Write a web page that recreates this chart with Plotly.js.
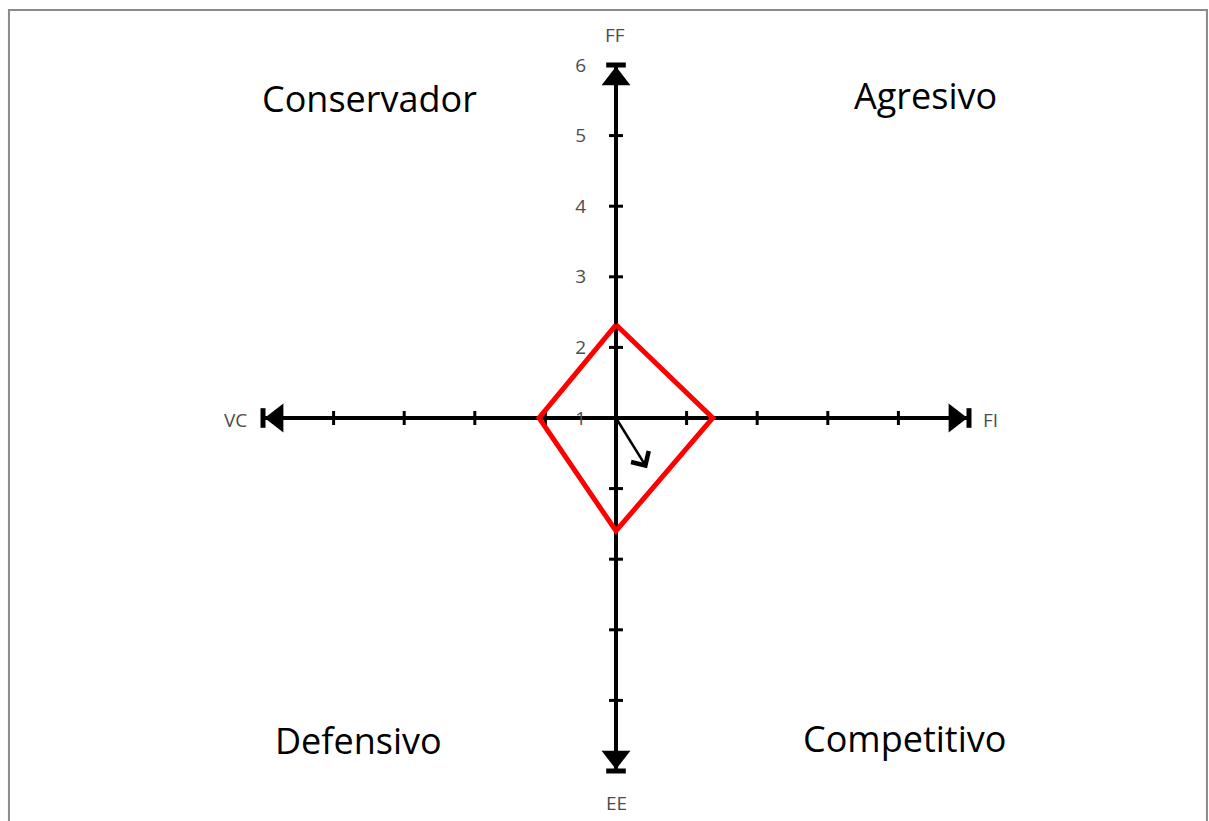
<!DOCTYPE html>
<html>
<head>
<meta charset="utf-8">
<script src="https://cdn.plot.ly/plotly-3.0.1.min.js"></script>
<style>
  html, body { margin: 0; padding: 0; background: #fff; }
  #graph { width: 1209px; height: 821px; }
</style>
</head>
<body>
<div id="graph"></div>
<script>
// ejes de la matriz PEEA (centro = 1 en el eje FF)
const axisNames = ["FF", "FI", "EE", "VC"];
const axisMin = [-5, -4];   // x, y
const axisMax = [5, 6];
const xTicks = [-4, -3, -2, -1, 1, 2, 3, 4];
const yTicks = [-3, -2, -1, 0, 2, 3, 4, 5];
const yTickVals = [1, 2, 3, 4, 5, 6];
const yTickText = ["1", "2", "3", "4", "5", "6"];

// poligono (rombo rojo)
const diamondX = [0, 1.37, 0, -1.09, 0];
const diamondY = [2.32, 1, -0.6, 1, 2.32];

// vector direccional
const vectorFrom = [0, 1];
const vectorTo = [0.44, 0.29];

// cuadrantes
const quadrants = ["Conservador", "Agresivo", "Defensivo", "Competitivo"];

document.addEventListener("DOMContentLoaded", () => {
  const graphDiv = document.getElementById("graph");
  const unit = 70.6;
  const cx = 616, cy = 418;

  const black = "#000000";

  // lineas de los ejes
  const hAxis = {
    x: [axisMin[0], axisMax[0]], y: [1, 1],
    mode: "lines", type: "scatter",
    line: { color: black, width: 4 }, hoverinfo: "skip"
  };
  const vAxis = {
    x: [0, 0], y: [axisMin[1], axisMax[1]],
    mode: "lines", type: "scatter",
    line: { color: black, width: 4 }, hoverinfo: "skip"
  };

  // marcas
  const hTicks = {
    x: xTicks, y: xTicks.map(() => 1),
    mode: "markers", type: "scatter",
    marker: { symbol: "line-ns", size: 10, line: { color: black, width: 3 } },
    hoverinfo: "skip"
  };
  const vTicks = {
    x: yTicks.map(() => 0), y: yTicks,
    mode: "markers", type: "scatter",
    marker: { symbol: "line-ew", size: 10, line: { color: black, width: 3 } },
    hoverinfo: "skip"
  };

  // barras en los extremos
  const hEnds = {
    x: [axisMin[0], axisMax[0]], y: [1, 1],
    mode: "markers", type: "scatter",
    marker: { symbol: "line-ns", size: 14, line: { color: black, width: 5 } },
    hoverinfo: "skip"
  };
  const vEnds = {
    x: [0, 0], y: [axisMin[1], axisMax[1]],
    mode: "markers", type: "scatter",
    marker: { symbol: "line-ew", size: 14, line: { color: black, width: 5 } },
    hoverinfo: "skip"
  };

  // puntas de flecha
  const off = 0.2;
  const heads = {
    x: [0, axisMax[0] - off, 0, axisMin[0] + off],
    y: [axisMax[1] - off, 1, axisMin[1] + off, 1],
    mode: "markers", type: "scatter",
    marker: {
      symbol: ["triangle-up", "triangle-right", "triangle-down", "triangle-left"],
      size: 25, color: black, line: { width: 0 }
    },
    hoverinfo: "skip"
  };

  const diamond = {
    x: diamondX, y: diamondY,
    mode: "lines", type: "scatter",
    line: { color: "#ff0000", width: 5 },
    hoverinfo: "skip"
  };

  const labelFont = { family: "Open Sans, sans-serif", size: 19, color: "#4d4d4d" };
  const quadFont = { family: "Open Sans, sans-serif", size: 36, color: "#000000" };

  const px = (v) => (v - cx) / unit;
  const py = (v) => 1 + (cy - v) / unit;

  const annotations = [
    { x: px(615), y: py(35), text: axisNames[0] },
    { x: px(990), y: py(420), text: axisNames[1] },
    { x: px(616), y: py(803), text: axisNames[2] },
    { x: px(235), y: py(420), text: axisNames[3] }
  ].map(a => Object.assign(a, { xref: "x", yref: "y", showarrow: false, font: labelFont }));

  const quadPos = [[369, 98], [925, 95], [358, 740], [904, 738]];
  quadrants.forEach((q, i) => {
    annotations.push({
      x: px(quadPos[i][0]), y: py(quadPos[i][1]), text: q,
      xref: "x", yref: "y", showarrow: false, font: quadFont
    });
  });

  // vector
  annotations.push({
    x: vectorTo[0], y: vectorTo[1], ax: vectorFrom[0], ay: vectorFrom[1],
    xref: "x", yref: "y", axref: "x", ayref: "y",
    text: "", showarrow: true, arrowhead: 4, arrowsize: 1.6, arrowwidth: 2.5,
    arrowcolor: black
  });

  const layout = {
    width: 1209, height: 821,
    margin: { l: 0, r: 0, t: 0, b: 0 },
    paper_bgcolor: "#ffffff", plot_bgcolor: "#ffffff",
    showlegend: false,
    xaxis: {
      range: [-cx / unit, (1209 - cx) / unit],
      visible: false, fixedrange: true
    },
    yaxis: {
      range: [1 - (821 - cy) / unit, 1 + cy / unit],
      anchor: "free", position: cx / 1209, side: "left",
      showgrid: false, zeroline: false, showline: false, ticks: "",
      tickvals: yTickVals, ticktext: yTickText,
      ticklabelstandoff: 30,
      tickfont: labelFont, fixedrange: true
    },
    annotations: annotations,
    shapes: [{
      type: "path", xref: "paper", yref: "paper",
      path: "M 0.0074,-0.1 L 0.0074,0.9878 L 0.9983,0.9878 L 0.9983,-0.1",
      line: { color: "#8a8a8a", width: 2 }
    }]
  };

  const data = [hAxis, vAxis, hTicks, vTicks, hEnds, vEnds, heads, diamond];
  Plotly.newPlot(graphDiv, data, layout, { staticPlot: true });
});
</script>
</body>
</html>
